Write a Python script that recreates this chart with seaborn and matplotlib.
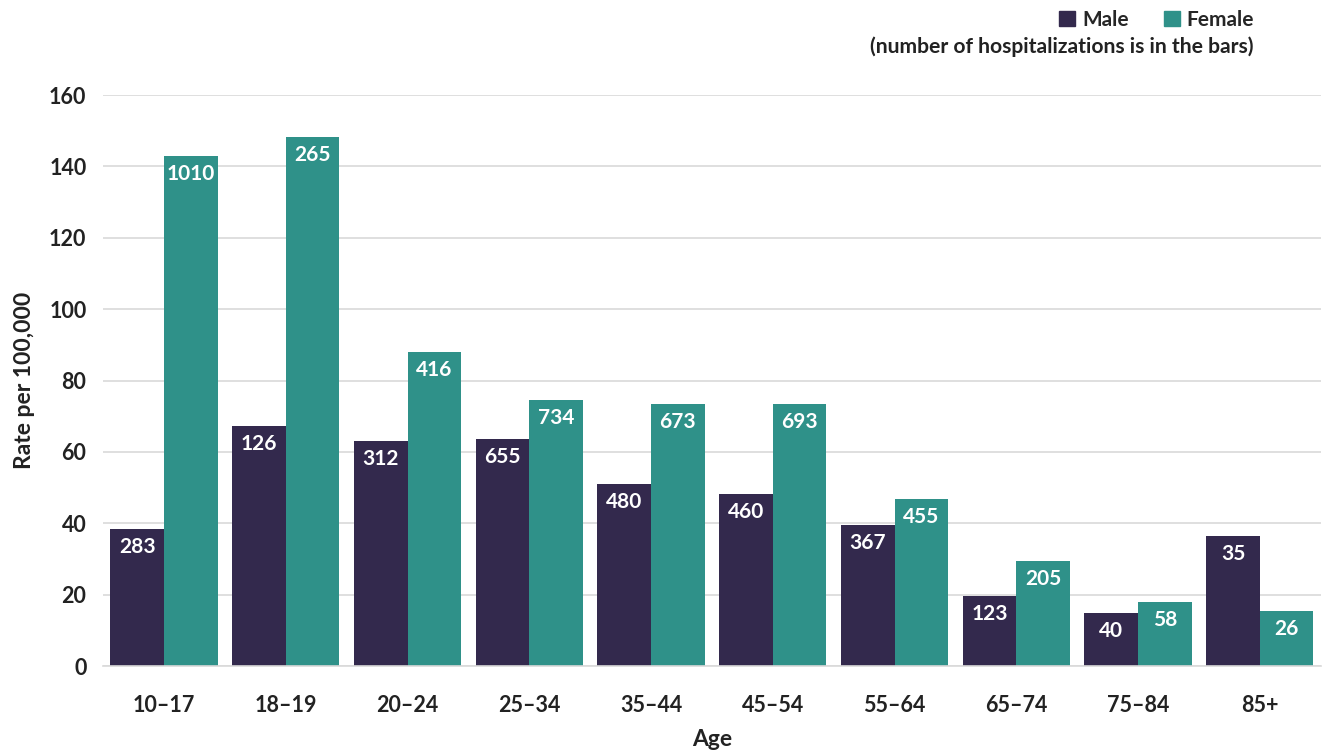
import matplotlib
matplotlib.use("Agg")
import matplotlib.pyplot as plt
import matplotlib.patches as mpatches
import seaborn as sns
import pandas as pd

# data
ages = ["10–17", "18–19", "20–24", "25–34", "35–44", "45–54", "55–64", "65–74", "75–84", "85+"]
male_rate = [38.4, 67.2, 63.0, 63.6, 51.0, 48.2, 39.5, 19.6, 14.9, 36.4]
female_rate = [142.9, 148.2, 88.0, 74.5, 73.4, 73.4, 46.8, 29.4, 17.9, 15.4]
male_count = [283, 126, 312, 655, 480, 460, 367, 123, 40, 35]
female_count = [1010, 265, 416, 734, 673, 693, 455, 205, 58, 26]

MALE_COLOR = "#33294d"
FEMALE_COLOR = "#2f9189"
TEXT_COLOR = "#222222"

sns.set_theme(style="white")
plt.rcParams['font.family'] = ['Lato', 'DejaVu Sans']

df = pd.DataFrame({
    "age": ages * 2,
    "rate": male_rate + female_rate,
    "count": male_count + female_count,
    "sex": ["Male"] * len(ages) + ["Female"] * len(ages),
})

fig = plt.figure(figsize=(13.22, 7.51), dpi=100)
ax = fig.add_axes([0.078, 0.113, 0.921, 0.7605])

sns.barplot(
    data=df, x="age", y="rate", hue="sex", order=ages, hue_order=["Male", "Female"],
    palette={"Male": MALE_COLOR, "Female": FEMALE_COLOR},
    width=0.88, saturation=1, errorbar=None, legend=False, linewidth=0, ax=ax,
)

# counts inside the bars (text bottom sits below the bar top)
for container, counts in zip(ax.containers, [male_count, female_count]):
    labels = [str(c) for c in counts]
    ax.bar_label(container, labels=labels, label_type="edge", padding=-20,
                 color="white", fontsize=15, fontweight="bold")

ax.set_ylim(0, 160)
ax.set_xlim(-0.5, len(ages) - 0.5)
ax.set_yticks(range(0, 161, 20))
ax.yaxis.grid(True, color="#d9d9d9", linewidth=1.2)
ax.set_axisbelow(True)
for s in ["top", "right", "left"]:
    ax.spines[s].set_visible(False)
ax.spines["bottom"].set_color("#d9d9d9")
ax.spines["bottom"].set_linewidth(1.2)
ax.tick_params(axis="both", length=0, labelsize=15.5, colors=TEXT_COLOR)
ax.tick_params(axis="y", pad=12)
ax.tick_params(axis="x", pad=21)
for t in ax.get_xticklabels() + ax.get_yticklabels():
    t.set_fontweight("bold")

ax.set_xlabel("Age", fontsize=16.5, fontweight="bold", color=TEXT_COLOR, labelpad=9)
ax.set_ylabel("Rate per 100,000", fontsize=16.5, fontweight="bold", color=TEXT_COLOR, labelpad=10)

# legend + note, top right
handles = [mpatches.Patch(color=MALE_COLOR, label="Male"),
           mpatches.Patch(color=FEMALE_COLOR, label="Female")]
fig.legend(handles=handles, loc="upper right", bbox_to_anchor=(0.963, 1.012), ncol=2,
           frameon=False, handlelength=0.75, handleheight=0.75,
           handletextpad=0.35, columnspacing=1.7, prop={"weight": "bold", "size": 15})
fig.text(0.948, 0.938, "(number of hospitalizations is in the bars)", ha="right", va="center",
         fontsize=15.2, fontweight="bold", color=TEXT_COLOR)

fig.savefig("out.png", dpi=100)
